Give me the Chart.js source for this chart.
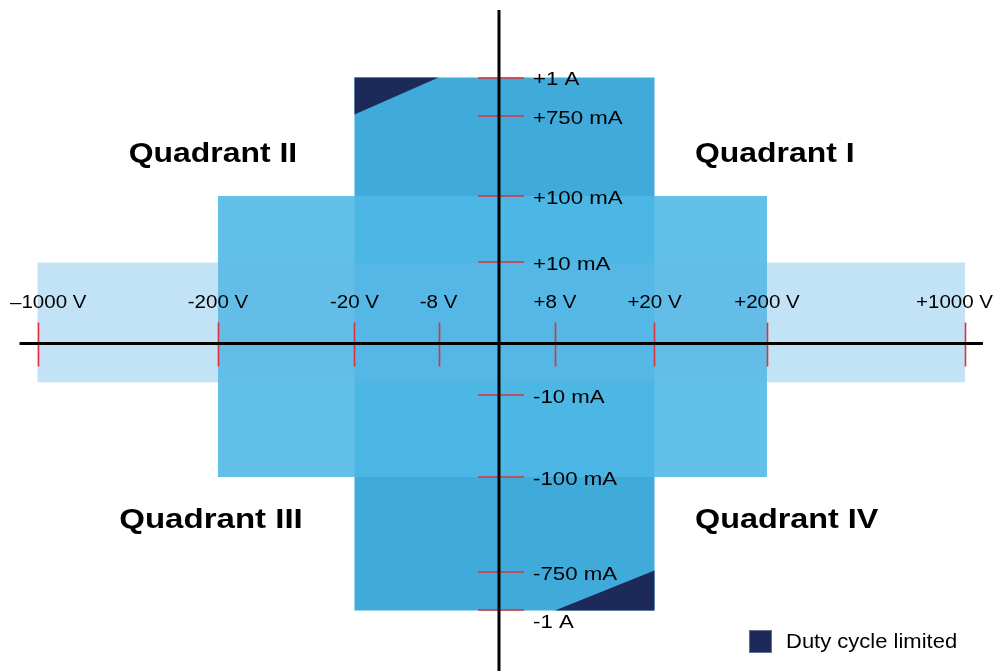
<!DOCTYPE html>
<html>
<head>
<meta charset="utf-8">
<script src="https://cdn.jsdelivr.net/npm/chart.js@4.4.1/dist/chart.umd.min.js"></script>
<style>
  html, body { margin: 0; padding: 0; background: #ffffff; }
  #wrap { width: 998px; height: 671px; position: relative; }
</style>
</head>
<body>
<div id="wrap"><canvas id="c"></canvas></div>
<script>
// ---------- data ----------
const voltageTicks  = [-1000, -200, -20, -8, 8, 20, 200, 1000];            // V
const voltageLabels = ['\u20131000 V', '-200 V', '-20 V', '-8 V', '+8 V', '+20 V', '+200 V', '+1000 V'];
const currentTicks  = [1000, 750, 100, 10, -10, -100, -750, -1000];         // mA
const currentLabels = ['+1 A', '+750 mA', '+100 mA', '+10 mA', '-10 mA', '-100 mA', '-750 mA', '-1 A'];

// operating ranges (symmetric voltage limit, upper / lower current limit)
const rangeNames       = ['\u00b11000 V range', '\u00b1200 V range', '\u00b120 V range'];
const rangeVoltMax     = [1000, 200, 20];
const rangeCurrTop     = [10, 100, 1000];
const rangeCurrBottom  = [-7.5, -100, -1000];

// duty-cycle-limited corners (V, mA)
const dutyQ2Volt = [-20, -8, -20];
const dutyQ2Curr = [1000, 1000, 760];
const dutyQ4Volt = [20, 20, 8];
const dutyQ4Curr = [-740, -1000, -1000];

const quadrantNames = ['Quadrant I', 'Quadrant II', 'Quadrant III', 'Quadrant IV'];
const legendLabel = 'Duty cycle limited';

// ---------- piecewise (schematic) scale ----------
class PiecewiseScale extends Chart.LinearScale {
  _frac(value) {
    const b = this.options.breaks;
    if (value <= b[0][0]) {
      const [v0, f0] = b[0], [v1, f1] = b[1];
      return f0 + (value - v0) * (f1 - f0) / (v1 - v0);
    }
    for (let i = 1; i < b.length; i++) {
      if (value <= b[i][0]) {
        const [v0, f0] = b[i - 1], [v1, f1] = b[i];
        return f0 + (value - v0) * (f1 - f0) / (v1 - v0);
      }
    }
    const n = b.length;
    const [v0, f0] = b[n - 2], [v1, f1] = b[n - 1];
    return f0 + (value - v0) * (f1 - f0) / (v1 - v0);
  }
  getPixelForValue(value) {
    const f = this._frac(value);
    if (this.isHorizontal()) return this.left + f * (this.right - this.left);
    return this.top + f * (this.bottom - this.top);
  }
  getValueForPixel(pixel) {
    const b = this.options.breaks;
    const f = this.isHorizontal() ? (pixel - this.left) / (this.right - this.left)
                                  : (pixel - this.top) / (this.bottom - this.top);
    for (let i = 1; i < b.length; i++) {
      const [v0, f0] = b[i - 1], [v1, f1] = b[i];
      if ((f - f0) * (f - f1) <= 0) return v0 + (f - f0) * (v1 - v0) / (f1 - f0);
    }
    return 0;
  }
}
PiecewiseScale.id = 'piecewise';
PiecewiseScale.defaults = Chart.LinearScale.defaults;
Chart.register(PiecewiseScale);

// ---------- datasets ----------
function rangePolygon(i) {
  const v = rangeVoltMax[i];
  return [
    {x: -v, y: rangeCurrTop[i]}, {x: v, y: rangeCurrTop[i]},
    {x: v, y: rangeCurrBottom[i]}, {x: -v, y: rangeCurrBottom[i]}
  ];
}
function zipPoly(xs, ys) { return xs.map((x, i) => ({x, y: ys[i]})); }

const rangeColors = ['rgba(100,185,230,0.40)', 'rgba(77,183,229,0.88)', 'rgb(64,170,219)'];
const dutyColor = '#1b2a58';

function polyDataset(label, data, color) {
  return {
    label, data, fill: 'shape', backgroundColor: color,
    borderColor: 'rgba(0,0,0,0)', borderWidth: 0, pointRadius: 0, tension: 0
  };
}

// index 0 is drawn last (on top)
const datasets = [
  polyDataset(legendLabel, zipPoly(dutyQ2Volt, dutyQ2Curr), dutyColor),
  polyDataset(legendLabel + ' (IV)', zipPoly(dutyQ4Volt, dutyQ4Curr), dutyColor),
  polyDataset(rangeNames[0], rangePolygon(0), rangeColors[0]),
  polyDataset(rangeNames[1], rangePolygon(1), rangeColors[1]),
  polyDataset(rangeNames[2], rangePolygon(2), rangeColors[2])
];

// ---------- overlay: axes, ticks, labels ----------
const FONT = '"Liberation Sans", Arial, Helvetica, sans-serif';

function stretchedText(ctx, str, x, y, align, baseline, font, sx) {
  ctx.save();
  ctx.font = font;
  ctx.textAlign = align;
  ctx.textBaseline = baseline;
  ctx.translate(x, y);
  ctx.scale(sx, 1);
  ctx.fillText(str, 0, 0);
  ctx.restore();
}

const overlay = {
  id: 'overlay',
  afterDatasetsDraw(chart) {
    const {ctx, chartArea} = chart;
    const xs = chart.scales.x, ys = chart.scales.y;
    const x0 = xs.getPixelForValue(0), y0 = ys.getPixelForValue(0);
    ctx.save();

    // red tick marks
    ctx.strokeStyle = '#e0303a';
    ctx.lineWidth = 1.6;
    ctx.beginPath();
    voltageTicks.forEach(v => {
      const px = Math.round(xs.getPixelForValue(v)) + 0.5;
      ctx.moveTo(px, y0 - 21); ctx.lineTo(px, y0 + 23);
    });
    currentTicks.forEach(c => {
      const py = Math.round(ys.getPixelForValue(c));
      ctx.moveTo(x0 - 21, py); ctx.lineTo(x0 + 25, py);
    });
    ctx.stroke();

    // black axes
    ctx.strokeStyle = '#000';
    ctx.lineWidth = 3;
    ctx.beginPath();
    ctx.moveTo(xs.getPixelForValue(-1000) - 18, y0);
    ctx.lineTo(xs.getPixelForValue(1000) + 18, y0);
    ctx.moveTo(x0, chartArea.top + 10);
    ctx.lineTo(x0, chartArea.bottom);
    ctx.stroke();

    ctx.fillStyle = '#000';
    // voltage labels (above the axis, kept inside the canvas)
    const vFont = '18px ' + FONT, vS = 1.14;
    ctx.font = vFont;
    voltageTicks.forEach((v, i) => {
      const w = ctx.measureText(voltageLabels[i]).width * vS;
      let cx = xs.getPixelForValue(v);
      if (cx - w / 2 < chartArea.left + 10) cx = chartArea.left + 10 + w / 2;
      if (cx + w / 2 > chartArea.right - 5) cx = chartArea.right - 5 - w / 2;
      stretchedText(ctx, voltageLabels[i], cx, y0 - 35, 'center', 'alphabetic', vFont, vS);
    });
    // current labels (right of the axis)
    const cFont = '19px ' + FONT, cS = 1.17;
    const minC = Math.min(...currentTicks);
    currentTicks.forEach((c, i) => {
      const py = ys.getPixelForValue(c);
      if (c === minC) stretchedText(ctx, currentLabels[i], x0 + 34, py + 3, 'left', 'top', cFont, cS);
      else stretchedText(ctx, currentLabels[i], x0 + 34, py + 2.5, 'left', 'middle', cFont, cS);
    });

    // quadrant names
    const qFont = 'bold 28px ' + FONT, qS = 1.14;
    stretchedText(ctx, quadrantNames[0], 695, 162, 'left', 'alphabetic', qFont, qS);
    stretchedText(ctx, quadrantNames[1], 213, 162, 'center', 'alphabetic', qFont, qS);
    stretchedText(ctx, quadrantNames[2], 211, 528, 'center', 'alphabetic', qFont, 1.18);
    stretchedText(ctx, quadrantNames[3], 695, 528, 'left', 'alphabetic', qFont, 1.155);

    // legend
    ctx.fillStyle = dutyColor;
    ctx.fillRect(749, 630, 23, 23);
    ctx.strokeStyle = 'rgba(120,130,160,0.8)';
    ctx.lineWidth = 1;
    ctx.strokeRect(749.5, 630.5, 22, 22);
    ctx.fillStyle = '#000';
    stretchedText(ctx, legendLabel, 786, 648, 'left', 'alphabetic', '20px ' + FONT, 1.1);

    ctx.restore();
  }
};

new Chart(document.getElementById('c'), {
  type: 'line',
  data: { datasets },
  options: {
    responsive: true,
    maintainAspectRatio: false,
    animation: false,
    events: [],
    layout: { padding: 0 },
    plugins: { legend: { display: false }, tooltip: { enabled: false } },
    scales: {
      x: {
        type: 'piecewise', display: false,
        breaks: [[-1000, 0.0376], [-200, 0.2184], [-20, 0.3552], [-8, 0.4394], [0, 0.5],
                 [8, 0.5561], [20, 0.6558], [200, 0.7685], [1000, 0.9669]]
      },
      y: {
        type: 'piecewise', display: false,
        breaks: [[-1000, 0.9098], [-750, 0.8525], [-100, 0.7109], [-10, 0.5887], [0, 0.5119],
                 [10, 0.3912], [100, 0.2921], [750, 0.1729], [1000, 0.1155]]
      }
    }
  },
  plugins: [overlay]
});
</script>
</body>
</html>
